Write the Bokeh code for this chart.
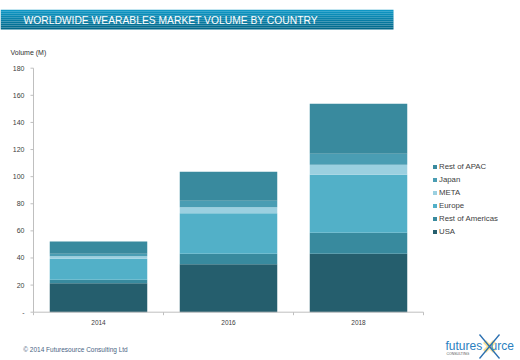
from bokeh.plotting import figure
from bokeh.models import (ColumnDataSource, Legend, LegendItem, Label, BoxAnnotation, Range1d)
from bokeh.core.properties import value
from bokeh.embed import file_html
from bokeh.resources import INLINE

# ---------------- data ----------------
years = ["2014", "2016", "2018"]
series = ["USA", "Rest of Americas", "Europe", "META", "Japan", "Rest of APAC"]
usa = [21.4, 35.4, 43.1]
rest_americas = [2.5, 7.7, 15.5]
europe = [15.5, 29.9, 42.8]
meta = [1.9, 4.4, 7.4]
japan = [1.8, 4.9, 8.1]
rest_apac = [9.1, 21.4, 36.9]
y_ticks = [0, 20, 40, 60, 80, 100, 120, 140, 160, 180]

colors = ["#255e6d", "#388a9e", "#52b0c8", "#9bd0e0", "#4a9db3", "#398a9e"]

# ---------------- layout constants (pixels) ----------------
W, H = 520, 360
AX_LEFT, AX_RIGHT = 33.0, 423.0      # plot area in canvas px
AX_BOTTOM, AX_TOP = 311.7, 67.7
Y_MAX = y_ticks[-1]
PX_Y = (AX_BOTTOM - AX_TOP) / Y_MAX          # px per unit
PX_X = (AX_RIGHT - AX_LEFT) / len(years)     # px per category

FONT = "Liberation Sans"

x_pos = [i + 0.5 for i in range(len(years))]
data = {"x": x_pos, "year": years, "USA": usa, "Rest of Americas": rest_americas,
        "Europe": europe, "META": meta, "Japan": japan, "Rest of APAC": rest_apac}
src = ColumnDataSource(data)

p = figure(width=W, height=H, output_backend="svg", toolbar_location=None,
           x_axis_type=None, y_axis_type=None, min_border=0,
           x_range=Range1d(-AX_LEFT / PX_X, (W - AX_LEFT) / PX_X),
           y_range=Range1d(-(H - AX_BOTTOM) / PX_Y, AX_BOTTOM / PX_Y))
p.outline_line_color = None
p.grid.visible = False
p.background_fill_color = "white"

rs = p.vbar_stack(series, x="x", width=0.75, source=src, color=colors, line_color=None)

# ---------- axes drawn through the data scales ----------
AXIS_COL = "#bfbfbf"
n = len(years)
p.segment(x0=[0], y0=[0], x1=[0], y1=[Y_MAX], line_color=AXIS_COL, line_width=1)
p.segment(x0=[0], y0=[0], x1=[n], y1=[0], line_color=AXIS_COL, line_width=1)
# y ticks
p.segment(x0=[-3 / PX_X] * len(y_ticks), y0=y_ticks, x1=[0] * len(y_ticks), y1=y_ticks,
          line_color=AXIS_COL, line_width=1)
# x ticks at category boundaries
bounds = list(range(n + 1))
p.segment(x0=bounds, y0=[0] * len(bounds), x1=bounds, y1=[-3 / PX_Y] * len(bounds),
          line_color=AXIS_COL, line_width=1)

ylab = ["-" if t == 0 else str(t) for t in y_ticks]
p.text(x=[-9 / PX_X] * len(y_ticks), y=y_ticks, text=ylab, text_align="right",
       text_baseline="middle", text_font=value(FONT), text_font_size="7px",
       text_color="#404040")
p.text(x=x_pos, y=[-10.3 / PX_Y] * n, text=years, text_align="center",
       text_baseline="middle", text_font=value(FONT), text_font_size="6.5px",
       text_color="#404040")

# ---------- legend (reverse order) ----------
items = [LegendItem(label=s, renderers=[r]) for s, r in zip(series, rs)][::-1]
legend = Legend(items=items, location=(432, 124), orientation="vertical",
                glyph_width=5, glyph_height=5, label_height=10, spacing=3,
                label_standoff=2, padding=0, margin=0,
                label_text_font=FONT, label_text_font_size="7.8px",
                label_text_color="#404040", border_line_color=None,
                background_fill_alpha=0)
p.add_layout(legend)

# ---------- title banner (vertical gradient as thin strips) ----------
b_top, b_bot, b_right = 9.3, 29.0, 393.0
c0, c1 = (14, 150, 196), (2, 104, 138)
steps = 10
for i in range(steps):
    t = i / (steps - 1)
    c = "#%02x%02x%02x" % tuple(int(round(a + (b - a) * t)) for a, b in zip(c0, c1))
    y_hi = b_top + (b_bot - b_top) * i / steps
    y_lo = b_top + (b_bot - b_top) * (i + 1) / steps
    p.add_layout(BoxAnnotation(left=0, right=b_right, top=H - y_hi, bottom=H - y_lo,
                               left_units="screen", right_units="screen",
                               top_units="screen", bottom_units="screen",
                               fill_color=c, fill_alpha=1, line_color=None))

p.add_layout(Label(x=23, y=H - 19.5, x_units="screen", y_units="screen",
                   text="WORLDWIDE WEARABLES MARKET VOLUME BY COUNTRY",
                   text_font=FONT, text_font_size="10.3px", text_color="white",
                   text_baseline="middle", text_align="left"))

p.add_layout(Label(x=10, y=H - 52, x_units="screen", y_units="screen",
                   text="Volume  (M)", text_font=FONT, text_font_size="7px",
                   text_color="#303030", text_baseline="middle"))

p.add_layout(Label(x=22.7, y=H - 349, x_units="screen", y_units="screen",
                   text="\u00a9 2014 Futuresource  Consulting Ltd", text_font=FONT,
                   text_font_size="6.5px", text_color="#4a6484", text_baseline="middle"))

# ---------- logo ----------
def sx(px):
    return (px - AX_LEFT) / PX_X


def sy(py):
    return (AX_BOTTOM - py) / PX_Y


# star "X" replacing the o
p.segment(x0=[sx(484), sx(484)], y0=[sy(341), sy(351)], x1=[sx(494), sx(494)],
          y1=[sy(351), sy(341)], line_color="#f5d76e", line_width=4, line_alpha=0.7)
p.segment(x0=[sx(479), sx(479)], y0=[sy(334), sy(358)], x1=[sx(499), sx(499)],
          y1=[sy(358), sy(334)], line_color="#2a6fb0", line_width=1.3)

p.add_layout(Label(x=445, y=H - 345.5, x_units="screen", y_units="screen",
                   text="futures", text_font=FONT, text_font_size="12px",
                   text_color="#2a7fc0", text_baseline="middle"))
p.add_layout(Label(x=490, y=H - 345.5, x_units="screen", y_units="screen",
                   text="urce", text_font=FONT, text_font_size="12px",
                   text_color="#2a7fc0", text_baseline="middle"))
p.add_layout(Label(x=446, y=H - 353, x_units="screen", y_units="screen",
                   text="CONSULTING", text_font=FONT, text_font_size="3.5px",
                   text_color="#555555", text_baseline="middle"))

open("out.html", "w").write(file_html(p, INLINE))
